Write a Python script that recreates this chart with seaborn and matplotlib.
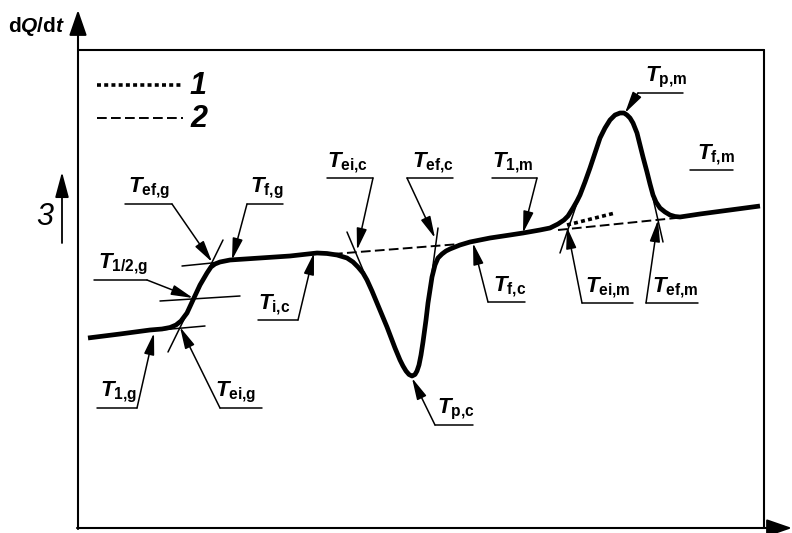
import matplotlib
matplotlib.use("Agg")
import matplotlib.pyplot as plt
import seaborn as sns
import pandas as pd

# ---------------- data (pixel units) ----------------
curve_x = [88, 120, 150, 162, 170, 176, 181, 187, 193, 200, 207, 211, 215, 220, 230,
           260, 290, 317, 327, 337, 347, 353, 358, 363, 367, 372, 377, 387, 395, 400,
           403, 406, 409, 412, 415, 417, 419, 421, 423, 426, 428, 430, 432, 435, 438,
           442, 446, 450, 460, 470, 490, 510, 523, 540, 550, 558, 564, 568, 573, 577,
           580, 585, 590, 595, 600, 605, 610, 615, 620, 624, 627, 630, 633, 637, 640,
           643, 647, 650, 653, 656, 660, 665, 670, 675, 680, 700, 730, 760]
curve_y = [338, 334, 330, 329, 327.5, 325, 321, 313, 300, 285, 273, 267, 264, 262, 260,
           258, 256, 253, 253.5, 255, 258, 262, 267, 273, 280, 291, 303, 327, 348, 360,
           366, 371, 374.5, 376, 374.5, 371, 365, 355, 342, 320, 303, 290, 277, 265, 258,
           254, 251, 249, 245, 242, 238, 235, 233, 230, 228, 224, 220, 216, 208, 201,
           195, 182, 168, 153, 138, 128, 120, 115, 113, 113, 115, 118, 123, 133, 145,
           157, 172, 184, 195, 202, 208, 212, 215, 216.5, 217, 214, 210, 206]

# tangent / construction lines (thin solid)
tan_x0 = [160, 160, 182, 168, 347, 438, 560, 663]
tan_y0 = [330, 301, 266, 352, 232, 228, 253, 242]
tan_x1 = [205, 240, 222, 223, 390, 425, 578, 647]
tan_y1 = [326, 296, 262, 240, 334, 325, 200, 172]

# line 2: interpolated baselines (dashed)
dash_x0 = [333, 558]
dash_y0 = [254, 230]
dash_x1 = [460, 676]
dash_y1 = [244, 218]

# line 1: extrapolated baseline (dotted)
dot_x = [567, 615]
dot_y = [225, 213]

# annotations
lab_text = [r"$\mathit{T}_{\mathbf{ef{,}g}}$", r"$\mathit{T}_{\mathbf{f{,}g}}$",
            r"$\mathit{T}_{\mathbf{1/2{,}g}}$", r"$\mathit{T}_{\mathbf{1{,}g}}$",
            r"$\mathit{T}_{\mathbf{ei{,}g}}$", r"$\mathit{T}_{\mathbf{i{,}c}}$",
            r"$\mathit{T}_{\mathbf{ei{,}c}}$", r"$\mathit{T}_{\mathbf{ef{,}c}}$",
            r"$\mathit{T}_{\mathbf{1{,}m}}$", r"$\mathit{T}_{\mathbf{f{,}c}}$",
            r"$\mathit{T}_{\mathbf{p{,}c}}$", r"$\mathit{T}_{\mathbf{p{,}m}}$",
            r"$\mathit{T}_{\mathbf{f{,}m}}$", r"$\mathit{T}_{\mathbf{ei{,}m}}$",
            r"$\mathit{T}_{\mathbf{ef{,}m}}$"]
lab_x = [128, 250, 98, 100, 215, 258, 327, 412, 492, 493, 437, 645, 697, 585, 652]
ul_x0 = [125, 247, 94, 97, 220, 258, 327, 407, 492, 488, 435, 638, 690, 582, 646]
ul_x1 = [172, 283, 147, 137, 262, 298, 373, 453, 537, 525, 473, 683, 733, 633, 698]
ul_y = [204, 204, 280, 408, 408, 320, 178, 178, 178, 302, 425, 93, 170, 303, 303]
lead_x = [172, 247, 147, 137, 220, 298, 373, 407, 537, 488, 435, 638, None, 582, 646]
tip_x = [212, 232, 193, 154, 180, 314, 357, 435, 523, 473, 412, 625, None, 567, 658]
tip_y = [262, 260, 298, 333, 327, 253, 250, 238, 233, 243, 378, 113, None, 227, 220]

legend_labels = ["1", "2"]
legend_y = [85, 118]
y_label = r"$\mathbf{d}\mathit{Q}\mathbf{/d}\mathit{t}$"
side_label = "3"

# ---------------- styling ----------------
sns.set_theme(style="white")
plt.rcParams["font.family"] = ["Liberation Sans", "DejaVu Sans"]
plt.rcParams["mathtext.fontset"] = "custom"
plt.rcParams["mathtext.rm"] = "Liberation Sans:bold"
plt.rcParams["mathtext.bf"] = "Liberation Sans:bold"
plt.rcParams["mathtext.it"] = "Liberation Sans:italic:bold"

fig = plt.figure(figsize=(7.92, 5.33), dpi=100)
ax = fig.add_axes([0, 0, 1, 1])
ax.set_xlim(0, 792)
ax.set_ylim(533, 0)
ax.axis("off")

K = "black"
thin = 1.1

# frame and axes
ax.plot([78, 764], [50, 50], color=K, lw=1.5)
ax.plot([764, 764], [50, 528], color=K, lw=1.5)
ax.annotate("", xy=(78, 10), xytext=(78, 529),
            arrowprops=dict(arrowstyle="-|>,head_length=1.3,head_width=0.45",
                            color=K, lw=1.5, shrinkA=0, shrinkB=0, mutation_scale=12))
ax.annotate("", xy=(792, 528), xytext=(77, 528),
            arrowprops=dict(arrowstyle="-|>,head_length=1.3,head_width=0.45",
                            color=K, lw=1.5, shrinkA=0, shrinkB=0, mutation_scale=12))

# main DSC curve
df = pd.DataFrame({"x": curve_x, "y": curve_y})
sns.lineplot(data=df, x="x", y="y", sort=False, estimator=None, color=K, lw=3.4,
             ax=ax, solid_capstyle="butt", solid_joinstyle="round")

# tangents
for x0, y0, x1, y1 in zip(tan_x0, tan_y0, tan_x1, tan_y1):
    ax.plot([x0, x1], [y0, y1], color=K, lw=thin)

# dashed baselines
for x0, y0, x1, y1 in zip(dash_x0, dash_y0, dash_x1, dash_y1):
    ax.plot([x0, x1], [y0, y1], color=K, lw=1.4, linestyle=(0, (5, 2.2)))

# dotted extrapolation
ax.plot(dot_x, dot_y, color=K, lw=2.6, linestyle=(0, (1.1, 0.9)), dash_capstyle="butt")

# legend
ax.plot([97, 183], [legend_y[0]] * 2, color=K, lw=2.6, linestyle=(0, (1.1, 0.9)),
        dash_capstyle="butt")
ax.plot([97, 183], [legend_y[1]] * 2, color=K, lw=1.4, linestyle=(0, (5, 2.2)))
for lab, ly in zip(legend_labels, legend_y):
    ax.text(190, ly + 1, lab, fontsize=22, style="italic", fontweight="bold",
            ha="left", va="center", color=K)

# axis label and side label
ax.text(8, 32, y_label, fontsize=15, ha="left", va="baseline", color=K)
ax.text(36, 225, side_label, fontsize=22, style="italic", ha="left", va="baseline", color=K)
ax.annotate("", xy=(62, 172), xytext=(62, 243),
            arrowprops=dict(arrowstyle="-|>,head_length=1.3,head_width=0.35",
                            color=K, lw=1.3, shrinkA=0, shrinkB=0, mutation_scale=12))

# labelled annotations
for t, lx, x0, x1, uy, sx, tx, ty in zip(lab_text, lab_x, ul_x0, ul_x1, ul_y,
                                          lead_x, tip_x, tip_y):
    ax.text(lx, uy - 3, t, fontsize=16, ha="left", va="bottom", color=K)
    ax.plot([x0, x1], [uy, uy], color=K, lw=thin)
    if sx is not None:
        ax.annotate("", xy=(tx, ty), xytext=(sx, uy),
                    arrowprops=dict(arrowstyle="-|>,head_length=1.1,head_width=0.26",
                                    color=K, lw=thin, shrinkA=0, shrinkB=0,
                                    mutation_scale=12))

fig.savefig("out.png", dpi=100)
